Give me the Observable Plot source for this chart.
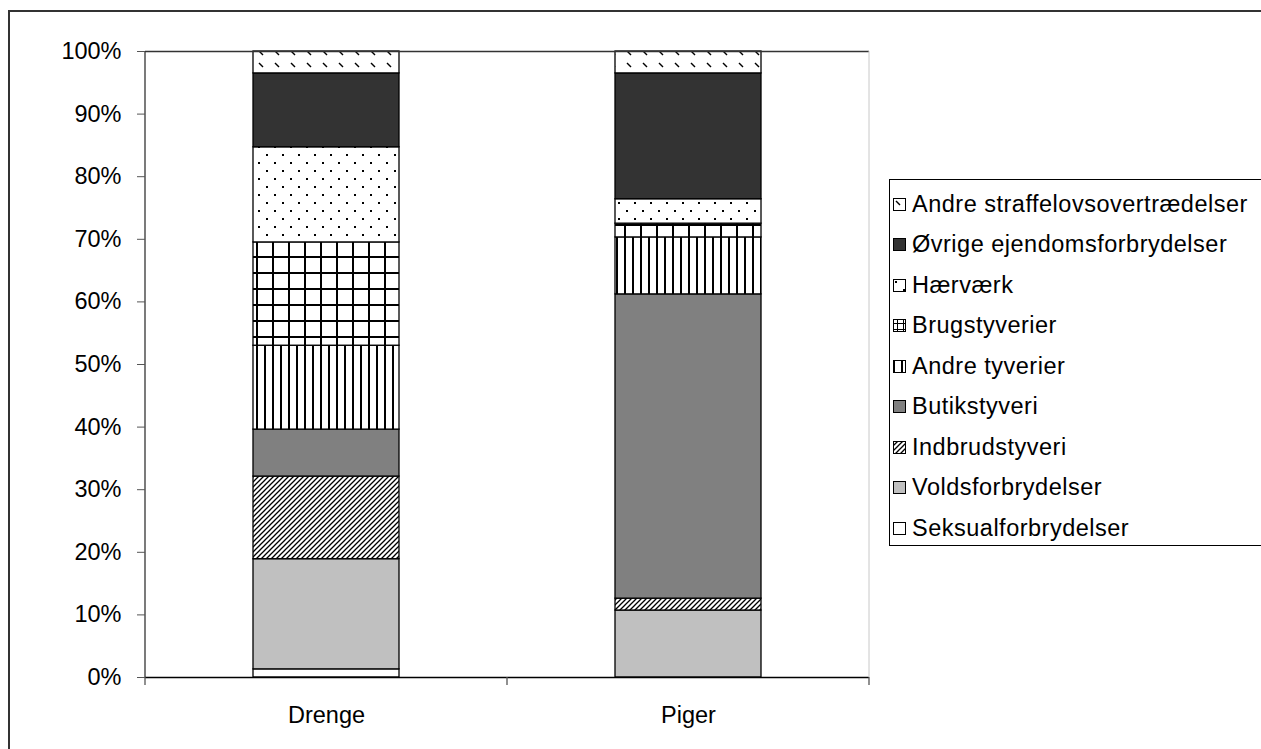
<!DOCTYPE html>
<html><head><meta charset="utf-8">
<script src="https://cdn.jsdelivr.net/npm/d3@7"></script>
<script src="https://cdn.jsdelivr.net/npm/@observablehq/plot@0.6"></script>
<style>
body{margin:0;background:#fff;font-family:"Liberation Sans",Arial,sans-serif;}
#wrap{position:relative;width:1261px;height:749px;overflow:hidden;background:#fff;}
#frame{position:absolute;left:8px;top:10px;width:1300px;height:800px;border-left:2px solid #333;border-top:2px solid #333;}
#chart{position:absolute;left:0;top:0;}
#legend{position:absolute;left:889px;top:179px;width:420px;height:365px;border:1px solid #000;background:#fff;}
.item{position:absolute;left:3px;height:28px;display:flex;align-items:center;font-size:23.5px;letter-spacing:0.5px;color:#000;white-space:nowrap;}
.item svg{margin-right:6px;}
#defs{position:absolute;left:0;top:0;width:0;height:0;}
</style></head>
<body>
<svg id="defs" width="0" height="0">
  <defs>
    <pattern id="p-dash" width="16" height="12" patternUnits="userSpaceOnUse">
      <rect width="16" height="12" fill="#fff"/>
      <path d="M3,3L7,7" stroke="#000" stroke-width="1.5"/>
    </pattern>
    <pattern id="p-dots" width="16" height="16" patternUnits="userSpaceOnUse">
      <rect width="16" height="16" fill="#fff"/>
      <rect x="2" y="2" width="2" height="2" fill="#000"/>
      <rect x="10" y="10" width="2" height="2" fill="#000"/>
    </pattern>
    <pattern id="p-grid" width="16" height="16" patternUnits="userSpaceOnUse">
      <rect width="16" height="16" fill="#fff"/>
      <rect x="0" y="0" width="2" height="16" fill="#000"/>
      <rect x="0" y="0" width="16" height="2" fill="#000"/>
    </pattern>
    <pattern id="p-vert" width="8" height="8" patternUnits="userSpaceOnUse">
      <rect width="8" height="8" fill="#fff"/>
      <rect x="0" y="0" width="2" height="8" fill="#000"/>
    </pattern>
    <pattern id="p-indbrud" width="5" height="5" patternUnits="userSpaceOnUse">
      <rect width="5" height="5" fill="#fff"/>
      <path d="M0,5L5,0M-1,1L1,-1M4,6L6,4" stroke="#000" stroke-width="1.3"/>
    </pattern>
    <pattern id="l-grid" width="6" height="6" patternUnits="userSpaceOnUse" x="1" y="1">
      <rect width="6" height="6" fill="#fff"/>
      <rect x="3" y="0" width="1" height="6" fill="#000"/>
      <rect x="0" y="3" width="6" height="1" fill="#000"/>
    </pattern>
  </defs>
</svg>
<div id="wrap">
  <div id="frame"></div>
  <div id="chart"></div>
  <div id="legend"></div>
</div>
<script>
// ---- data ----
const categories = ["Drenge", "Piger"];
const series = [
  "Seksualforbrydelser",
  "Voldsforbrydelser",
  "Indbrudstyveri",
  "Butikstyveri",
  "Andre tyverier",
  "Brugstyverier",
  "Hærværk",
  "Øvrige ejendomsforbrydelser",
  "Andre straffelovsovertrædelser"
];
const drengeValues = [1.3, 17.6, 13.2, 7.5, 13.4, 16.5, 15.2, 11.8, 3.5];
const pigerValues  = [0.0, 10.7, 1.9, 48.6, 9.1, 2.2, 3.9, 20.1, 3.5];
const yTicks = [0, 10, 20, 30, 40, 50, 60, 70, 80, 90, 100];

// ---- styles ----
const fills = ["#ffffff", "#c0c0c0", "url(#p-indbrud)", "#808080", "url(#p-vert)",
               "url(#p-grid)", "url(#p-dots)", "#333333", "url(#p-dash)"];
const legendFills = ["#ffffff", "#c0c0c0", "url(#p-indbrud)", "#808080", "url(#p-vert)",
               "url(#l-grid)", "url(#p-dots)", "#333333", "url(#p-dash)"];

const valuesByCat = {Drenge: drengeValues, Piger: pigerValues};
const rows = [];
for (const c of categories) {
  series.forEach((s, i) => rows.push({cat: c, series: s, value: valuesByCat[c][i]}));
}

// structural lines: y axis line, right border, category ticks at band boundaries
function frameLines(index, scales, values, dim) {
  const g = d3.create("svg:g");
  const x0 = dim.marginLeft, x1 = dim.width - dim.marginRight;
  const yTop = dim.marginTop, yBot = dim.height - dim.marginBottom;
  g.append("line").attr("x1", x0).attr("x2", x0).attr("y1", yTop).attr("y2", yBot)
    .attr("stroke", "#333").attr("stroke-width", 1.3);
  g.append("line").attr("x1", x1).attr("x2", x1).attr("y1", yTop).attr("y2", yBot)
    .attr("stroke", "#c8c8c8").attr("stroke-width", 1);
  const n = categories.length;
  for (let k = 0; k <= n; k++) {
    const xx = x0 + (x1 - x0) * k / n;
    g.append("line").attr("x1", xx).attr("x2", xx).attr("y1", yBot).attr("y2", yBot + 8)
      .attr("stroke", "#555").attr("stroke-width", 1.3);
  }
  return g.node();
}

const chart = Plot.plot({
  width: 1261,
  height: 749,
  marginLeft: 145,
  marginRight: 392,
  marginTop: 51,
  marginBottom: 72,
  style: {fontFamily: "'Liberation Sans', Arial, sans-serif", fontSize: "23.5px", color: "#000", background: "transparent"},
  x: {domain: categories, paddingInner: 0.597, paddingOuter: 0.2985, label: null},
  y: {domain: [0, 100], label: null},
  color: {domain: series, range: fills},
  marks: [
    Plot.barY(rows, Plot.stackY({x: "cat", y: "value", fill: "series", stroke: "#000", strokeWidth: 1.3})),
    Plot.ruleY([100], {stroke: "#333", strokeWidth: 1.3}),
    Plot.ruleY([0], {stroke: "#000", strokeWidth: 1.3}),
    frameLines,
    Plot.axisY({ticks: yTicks, tickSize: 8, tickPadding: 16, tickFormat: d => d + "%", stroke: "#555", fontSize: 23.5}),
    Plot.axisX({tickSize: 0, tickPadding: 29, fontSize: 23.5})
  ]
});
document.getElementById("chart").appendChild(chart);

// legend (top to bottom = reverse of stacking order)
const legend = document.getElementById("legend");
const order = series.map((s, i) => i).reverse();
order.forEach((i, k) => {
  const div = document.createElement("div");
  div.className = "item";
  div.style.top = (24 + 40.5 * k - 14) + "px";
  div.innerHTML = `<svg width="13" height="13"><rect x="0.5" y="0.5" width="12" height="12" fill="${legendFills[i]}" stroke="#000" stroke-width="1"/></svg><span>${series[i]}</span>`;
  legend.appendChild(div);
});
</script>
</body></html>
